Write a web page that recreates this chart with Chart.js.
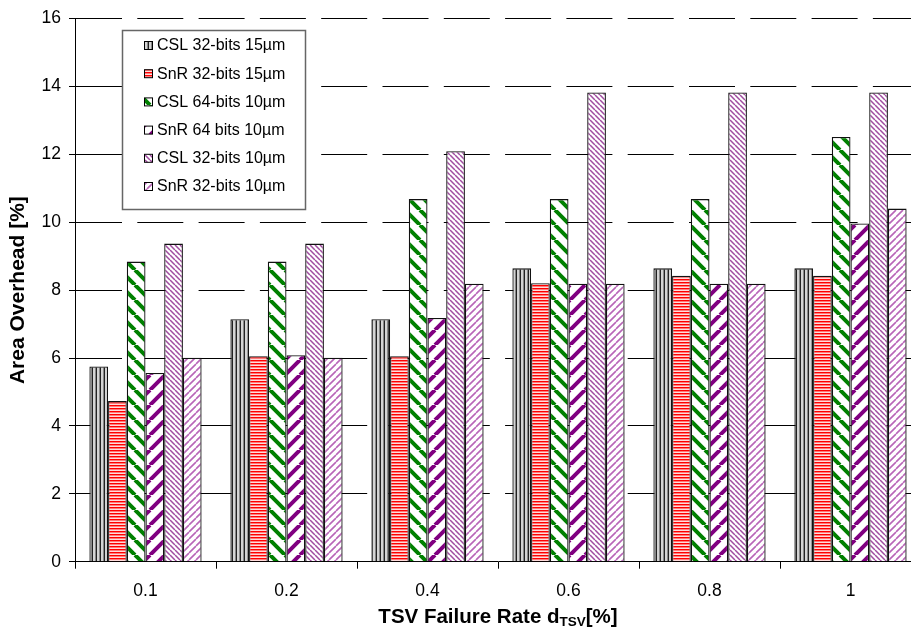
<!DOCTYPE html>
<html lang="en">
<head>
  <meta charset="UTF-8">
  <title>Area Overhead vs TSV Failure Rate</title>
  <script src="https://cdn.jsdelivr.net/npm/chart.js"></script>
  <style>
    html, body { margin: 0; padding: 0; background: #fff; overflow: hidden; }
    #wrap { position: relative; width: 921px; height: 630px; }
  </style>
</head>
<body>
  <div id="wrap"><canvas id="chart"></canvas></div>

  <script>
    // values
    const rates = ['0.1', '0.2', '0.4', '0.6', '0.8', '1'];
    const csl32at15 = [5.75, 7.14, 7.14, 8.64, 8.64, 8.64];
    const snr32at15 = [4.73, 6.05, 6.05, 8.2, 8.42, 8.42];
    const csl64at10 = [8.84, 8.84, 10.68, 10.68, 10.68, 12.51];
    const snr64at10 = [5.56, 6.08, 7.18, 8.19, 8.19, 9.96];
    const csl32at10 = [9.37, 9.37, 12.09, 13.82, 13.82, 13.82];
    const snr32at10 = [6.01, 6.01, 8.19, 8.19, 8.19, 10.4];
    const seriesNames = ['CSL 32-bits 15µm', 'SnR 32-bits 15µm', 'CSL 64-bits 10µm',
                         'SnR 64 bits 10µm', 'CSL 32-bits 10µm', 'SnR 32-bits 10µm'];
    const yMin = 0, yMax = 16, yStep = 2;

    const FONT = "'Liberation Sans', Arial, sans-serif";
    const scratch = document.createElement('canvas').getContext('2d');

    function tile(w, h, paint) {
      const c = document.createElement('canvas');
      c.width = w; c.height = h;
      paint(c.getContext('2d'), w, h);
      return scratch.createPattern(c, 'repeat');
    }
    function vStripes(cols) {
      return tile(cols.length, 1, g => cols.forEach((c, i) => { g.fillStyle = c; g.fillRect(i, 0, 1, 1); }));
    }
    function hStripes(cols) {
      return tile(1, cols.length, g => cols.forEach((c, i) => { g.fillStyle = c; g.fillRect(0, i, 1, 1); }));
    }
    // up = true gives "/" stripes, false gives "\"
    function diag(color, size, lw, up) {
      return tile(size, size, (g, w) => {
        g.fillStyle = '#fff';
        g.fillRect(0, 0, w, w);
        g.strokeStyle = color;
        g.lineWidth = lw;
        g.beginPath();
        [-w, 0, w].forEach(o => {
          if (up) { g.moveTo(o, w); g.lineTo(o + w, 0); }
          else { g.moveTo(o, 0); g.lineTo(o + w, w); }
        });
        g.stroke();
      });
    }

    const fills = [
      vStripes(['#222', '#d4d4d4', '#d4d4d4', '#888']),
      hStripes(['#ff0000', '#ff7a7a', '#ffdcdc']),
      diag('#008000', 15, 4, false),
      diag('#800080', 15, 4, true),
      diag('#a04ca0', 5, 1.5, false),
      diag('#b866b8', 7, 1.6, true)
    ];
    const values = [csl32at15, snr32at15, csl64at10, snr64at10, csl32at10, snr32at10];

    const datasets = values.map((v, i) => ({
      label: seriesNames[i],
      data: v,
      backgroundColor: fills[i],
      borderColor: '#111',
      borderWidth: 1.3,
      categoryPercentage: 0.796,
      barPercentage: 1.0
    }));

    // legend box and x title with subscript
    const overlay = {
      id: 'overlay',
      afterDraw(chart) {
        const { ctx, chartArea } = chart;
        ctx.save();
        ctx.fillStyle = '#fff';
        ctx.fillRect(122.5, 30.5, 183, 179);
        ctx.strokeStyle = '#666';
        ctx.lineWidth = 1.5;
        ctx.strokeRect(122.5, 30.5, 183, 179);

        ctx.font = '16px ' + FONT;
        ctx.textBaseline = 'middle';
        chart.data.datasets.forEach((ds, i) => {
          const y = 45.5 + i * 28.2;
          ctx.fillStyle = ds.backgroundColor;
          ctx.fillRect(144.5, y - 4, 8, 8);
          ctx.strokeStyle = '#000';
          ctx.lineWidth = 1;
          ctx.strokeRect(144.5, y - 4, 8, 8);
          ctx.fillStyle = '#000';
          ctx.fillText(ds.label, 157, y + 0.5);
        });

        const main = 'TSV Failure Rate d', sub = 'TSV', tail = '[%]';
        const big = 'bold 20.5px ' + FONT, small = 'bold 13.5px ' + FONT;
        ctx.font = big;
        const w1 = ctx.measureText(main).width, w3 = ctx.measureText(tail).width;
        ctx.font = small;
        const w2 = ctx.measureText(sub).width;
        let x = (chartArea.left + chartArea.right) / 2 - (w1 + w2 + w3) / 2;
        const base = 622.5;
        ctx.textBaseline = 'alphabetic';
        ctx.fillStyle = '#000';
        ctx.font = big; ctx.fillText(main, x, base); x += w1;
        ctx.font = small; ctx.fillText(sub, x, base + 3); x += w2;
        ctx.font = big; ctx.fillText(tail, x, base);
        ctx.restore();
      }
    };

    new Chart(document.getElementById('chart'), {
      type: 'bar',
      data: { labels: rates, datasets },
      plugins: [overlay],
      options: {
        responsive: true,
        maintainAspectRatio: false,
        animation: false,
        layout: { padding: { top: 15.7, right: 0, bottom: 0, left: 0 } },
        plugins: { legend: { display: false }, tooltip: { enabled: false } },
        scales: {
          x: {
            afterFit(s) { s.height = 68.3; },
            grid: { display: true, drawOnChartArea: false, drawTicks: true, tickLength: 7, color: '#000' },
            border: { display: true, color: '#000', width: 1 },
            ticks: { color: '#000', padding: 12, font: { family: FONT, size: 17.5 } }
          },
          y: {
            min: yMin,
            max: yMax,
            afterFit(s) { s.width = 75; },
            ticks: { stepSize: yStep, color: '#000', padding: 8, font: { family: FONT, size: 17.5 } },
            grid: { color: '#000', lineWidth: 1, tickLength: 6, tickBorderDash: [] },
            border: { display: true, color: '#000', width: 1, dash: [46, 15.3] },
            title: {
              display: true,
              text: 'Area Overhead [%]',
              color: '#000',
              padding: { top: 6, bottom: 0 },
              font: { family: FONT, size: 21, weight: 'bold' }
            }
          }
        }
      }
    });
  </script>
</body>
</html>
